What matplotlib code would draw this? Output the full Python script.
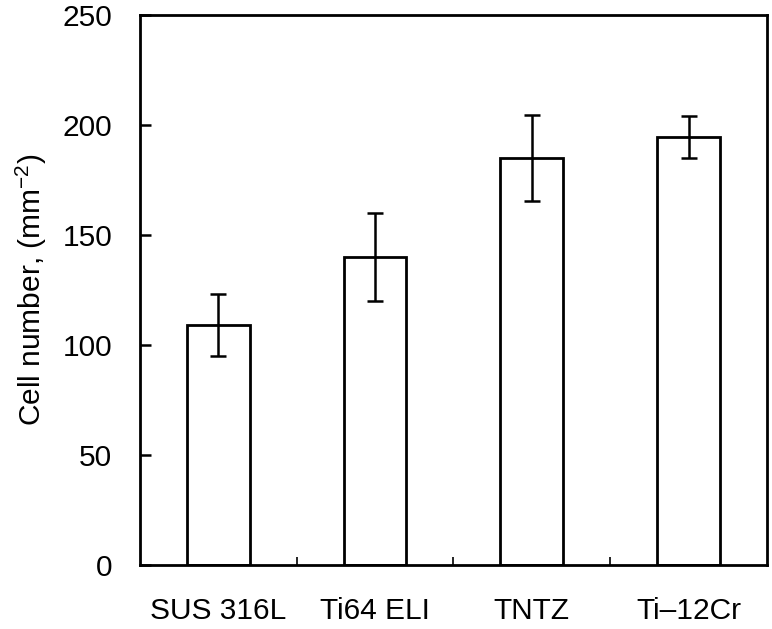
import matplotlib.pyplot as plt
import numpy as np

plt.rcParams.update({
    'font.family': ['Liberation Sans', 'DejaVu Sans'],
    'font.size': 21,
    'mathtext.fontset': 'custom',
    'mathtext.rm': 'Liberation Sans',
    'mathtext.it': 'Liberation Sans',
})

# Dados
materials = ['SUS 316L', 'Ti64 ELI', 'TNTZ', 'Ti\u201312Cr']
cell_number = [109, 140, 185, 194.5]
cell_err = [14, 20, 19.5, 9.5]

fig = plt.figure(figsize=(7.72, 6.29), dpi=100)
ax = fig.add_axes([0.1813, 0.1017, 0.8122, 0.8745])

x = np.arange(len(materials))
ax.bar(x, cell_number, width=0.4, color='white', edgecolor='black', linewidth=2.0,
       yerr=cell_err, capsize=5.5,
       error_kw=dict(elinewidth=1.8, capthick=1.8, ecolor='black'))

ax.set_xlim(-0.5, len(materials) - 0.5)
ax.set_ylim(0, 250)
ax.set_yticks([0, 50, 100, 150, 200, 250])

ax.set_xticks(x)
ax.set_xticklabels(materials)
ax.set_xticks(x[:-1] + 0.5, minor=True)
ax.tick_params(axis='x', which='major', length=0, pad=23, labelsize=21.5)
ax.tick_params(axis='x', which='minor', direction='in', length=6, width=1.2)
ax.tick_params(axis='y', direction='in', length=8, width=1.8, pad=20, labelsize=21.5)

for s in ax.spines.values():
    s.set_linewidth(2.0)

ax.set_ylabel('Cell number, (mm$^{-2}$)', fontsize=21.5, labelpad=10)

fig.savefig('out.png', dpi=100)
